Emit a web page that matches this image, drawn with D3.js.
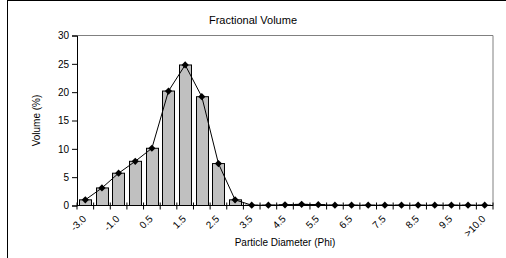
<!DOCTYPE html>
<html>
<head>
<meta charset="utf-8">
<script src="https://cdn.jsdelivr.net/npm/d3@7"></script>
<style>
body{margin:0;background:#fff;}
text{font-family:"Liberation Sans",Arial,sans-serif;}
</style>
</head>
<body>
<svg width="506" height="258"></svg>
<script>
// categories (phi) and volume %
var cats = ['-3.0','-2.0','-1.0','0.0','0.5','1.0','1.5','2.0','2.5','3.0','3.5','4.0','4.5','5.0','5.5','6.0','6.5','7.0','7.5','8.0','8.5','9.0','9.5','10.0','>10.0'];
var shown = ['-3.0','-1.0','0.5','1.5','2.5','3.5','4.5','5.5','6.5','7.5','8.5','9.5','>10.0'];
var volume = [1.0,3.1,5.7,7.8,10.1,20.2,24.8,19.2,7.4,1.0,0.05,0.05,0.12,0.2,0.15,0.05,0.05,0.05,0.05,0.05,0.05,0.05,0.05,0.05,0.05];
var yTicks = [0,5,10,15,20,25,30];

var svg = d3.select('svg');
var pLeft = 77, pRight = 493, pTop = 35.5, pBottom = 205.5;

svg.append('rect').attr('x',7.5).attr('y',0.5).attr('width',520).attr('height',280)
  .attr('fill','white').attr('stroke','black').attr('stroke-width',1);

var x = d3.scaleBand().domain(cats).range([pLeft,pRight]).paddingInner(0.25).paddingOuter(0.125);
var y = d3.scaleLinear().domain([0,30]).range([pBottom,pTop]);

// plot frame (top/right grey)
svg.append('path').attr('d','M'+pLeft+','+pTop+'H'+pRight+'V'+pBottom)
  .attr('fill','none').attr('stroke','#808080').attr('stroke-width',1);

svg.append('text').attr('x',253).attr('y',24).attr('text-anchor','middle')
  .attr('font-size',11).text('Fractional Volume');

// bars
svg.selectAll('rect.bar').data(volume).enter().append('rect').attr('class','bar')
  .attr('x',function(d,i){return Math.round(x(cats[i]))+0.5;})
  .attr('y',function(d){return y(d);})
  .attr('width',Math.round(x.bandwidth()))
  .attr('height',function(d){return pBottom-y(d);})
  .attr('fill','#c0c0c0').attr('stroke','black').attr('stroke-width',1);

// y axis
var ya = svg.append('g').attr('transform','translate('+pLeft+',0)')
  .call(d3.axisLeft(y).tickValues(yTicks).tickSize(5).tickPadding(3));
ya.select('.domain').attr('stroke','black');
ya.selectAll('text').attr('font-size',10).attr('font-family','"Liberation Sans",Arial,sans-serif');

// x axis: ticks at category boundaries, crossing the line
var step = x.step();
var bounds = d3.range(cats.length+1).map(function(i){return pLeft+i*step;});
svg.append('line').attr('x1',pLeft).attr('x2',pRight).attr('y1',pBottom).attr('y2',pBottom).attr('stroke','black');
svg.selectAll('line.xt').data(bounds).enter().append('line').attr('class','xt')
  .attr('x1',function(d){return d;}).attr('x2',function(d){return d;})
  .attr('y1',pBottom-3).attr('y2',pBottom+4).attr('stroke','black');

svg.selectAll('text.xl').data(shown).enter().append('text').attr('class','xl')
  .attr('transform',function(d){return 'translate('+(x(d)+x.bandwidth()/2+1.5)+','+(pBottom+14)+') rotate(-45)';})
  .attr('text-anchor','end').attr('font-size',10).text(function(d){return d;});

// line + diamonds
var cx = function(d,i){return x(cats[i])+x.bandwidth()/2;};
svg.append('path').datum(volume)
  .attr('d',d3.line().x(cx).y(function(d){return y(d);}))
  .attr('fill','none').attr('stroke','black').attr('stroke-width',1);
svg.selectAll('path.mk').data(volume).enter().append('path').attr('class','mk')
  .attr('d','M0,-3.6L3.6,0L0,3.6L-3.6,0Z')
  .attr('transform',function(d,i){return 'translate('+cx(d,i)+','+y(d)+')';})
  .attr('fill','black');

svg.append('text').attr('transform','translate(40,'+((pTop+pBottom)/2)+') rotate(-90)')
  .attr('text-anchor','middle').attr('font-size',10).text('Volume (%)');
svg.append('text').attr('x',(pLeft+pRight)/2).attr('y',246).attr('text-anchor','middle')
  .attr('font-size',10).text('Particle Diameter (Phi)');
</script>
</body>
</html>
